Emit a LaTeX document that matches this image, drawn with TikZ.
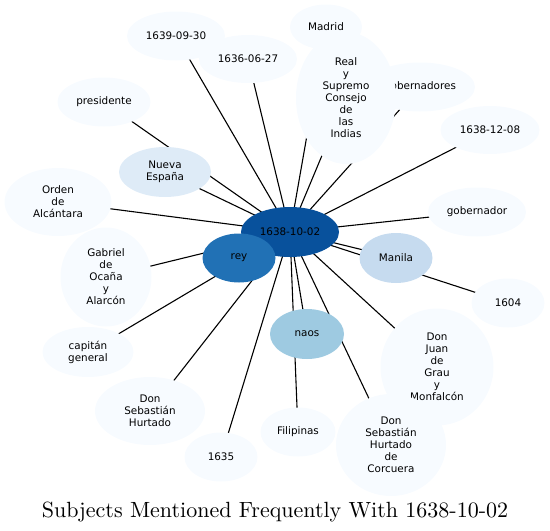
\documentclass[tikz,border=0pt]{standalone}
\usepackage{fontspec}
\newfontfamily\subjfont{DejaVu Sans}
\newfontfamily\titlefont{lmroman10-regular}[Extension=.otf]
\usetikzlibrary{shapes.geometric}
\pgfdeclarelayer{background}
\pgfsetlayers{background,main}

\definecolor{blueA}{HTML}{F7FBFF}
\definecolor{blueB}{HTML}{DEEBF7}
\definecolor{blueC}{HTML}{C6DBEF}
\definecolor{blueD}{HTML}{9ECAE1}
\definecolor{blueE}{HTML}{2171B5}
\definecolor{blueF}{HTML}{08519C}

\tikzset{
  subj/.style={ellipse, fill=blueA, inner sep=0pt, align=center,
    font=\subjfont\fontsize{10.4}{12}\selectfont},
  link/.style={line width=1.1pt}
}

\begin{document}
\begin{tikzpicture}[x=1pt, y=-1pt]

      \useasboundingbox (0,0) rectangle (550,531);

      % ============================================================
      % MIDDEN: het onderwerp
      % ============================================================

      \node[subj, fill=blueF, minimum width=98, minimum height=50]
        (hub) at (290,232) {1638-10-02};
      \node[subj, fill=blueE, minimum width=73, minimum height=49]
        (rey) at (239,258) {rey};

      % ============================================================
      % BOVEN
      % ============================================================

      \node[subj, minimum width=98, minimum height=49]
        (d1639) at (176,36) {1639-09-30};
      \node[subj, minimum width=98, minimum height=48]
        (d1636) at (248,59) {1636-06-27};
      \node[subj, minimum width=72, minimum height=45]
        (madrid) at (326,27) {Madrid};
      \node[subj, minimum width=110, minimum height=49]
        (gobs) at (420,87) {gobernadores};
      \node[subj, minimum width=100, minimum height=132]
        (consejo) at (346,98) {Real\\y\\Supremo\\Consejo\\de\\las\\Indias};
      \node[subj, minimum width=99, minimum height=48]
        (d1638) at (490,130) {1638-12-08};
      \node[subj, minimum width=93, minimum height=49]
        (pres) at (104,102) {presidente};

      % ============================================================
      % LINKS
      % ============================================================

      \node[subj, fill=blueB, minimum width=92, minimum height=50]
        (nueva) at (165,172) {Nueva\\España};
      \node[subj, minimum width=107, minimum height=68]
        (orden) at (58,202) {Orden\\de\\Alcántara};
      \node[subj, minimum width=91, minimum height=99]
        (gabriel) at (106,277) {Gabriel\\de\\Ocaña\\y\\Alarcón};
      \node[subj, minimum width=91, minimum height=50]
        (capitan) at (88,352) {capitán\\general};
      \node[subj, minimum width=110, minimum height=68]
        (sebas) at (150,411) {Don\\Sebastián\\Hurtado};
      \node[subj, minimum width=73, minimum height=49]
        (d1635) at (221,457) {1635};

      % ============================================================
      % RECHTS en ONDER
      % ============================================================

      \node[subj, minimum width=98, minimum height=49]
        (gob) at (477,212) {gobernador};
      \node[subj, fill=blueC, minimum width=73, minimum height=50]
        (manila) at (396,258) {Manila};
      \node[subj, minimum width=73, minimum height=49]
        (d1604) at (508,303) {1604};
      \node[subj, fill=blueD, minimum width=74, minimum height=50]
        (naos) at (307,334) {naos};
      \node[subj, minimum width=75, minimum height=49]
        (filip) at (298,432) {Filipinas};
      \node[subj, minimum width=113, minimum height=117]
        (juan) at (437,367) {Don\\Juan\\de\\Grau\\y\\Monfalcón};
      \node[subj, minimum width=110, minimum height=102]
        (corcuera) at (391,445) {Don\\Sebastián\\Hurtado\\de\\Corcuera};

      % Verbindingen vanuit het midden
      \begin{pgfonlayer}{background}
        \draw[link]
          (hub.center) -- (rey.center)
          (hub.center) -- (d1639.center)
          (hub.center) -- (d1636.center)
          (hub.center) -- (madrid.center)
          (hub.center) -- (gobs.center)
          (hub.center) -- (consejo.center)
          (hub.center) -- (d1638.center)
          (hub.center) -- (pres.center)
          (hub.center) -- (nueva.center)
          (hub.center) -- (orden.center)
          (hub.center) -- (gabriel.center)
          (hub.center) -- (capitan.center)
          (hub.center) -- (sebas.center)
          (hub.center) -- (d1635.center)
          (hub.center) -- (gob.center)
          (hub.center) -- (manila.center)
          (hub.center) -- (d1604.center)
          (hub.center) -- (naos.center)
          (hub.center) -- (filip.center)
          (hub.center) -- (juan.center)
          (hub.center) -- (corcuera.center);
      \end{pgfonlayer}

      % Titel
      \node[anchor=base, font=\titlefont\fontsize{22}{26}\selectfont, inner sep=0pt]
        (title) at (275,517) {Subjects Mentioned Frequently With 1638-10-02};

\end{tikzpicture}
\end{document}
